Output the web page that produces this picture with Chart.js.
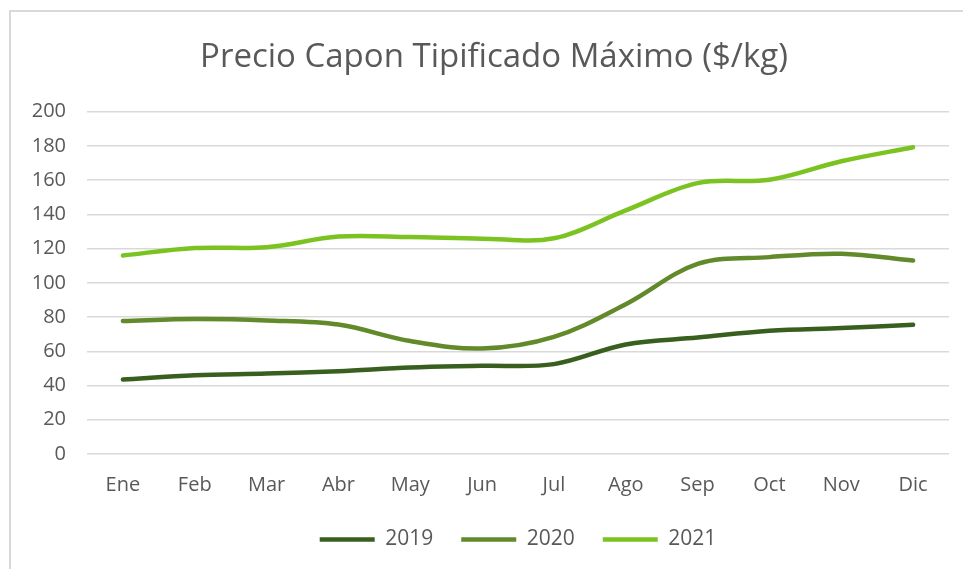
<!DOCTYPE html>
<html>
<head>
<meta charset="utf-8">
<script src="https://cdn.jsdelivr.net/npm/chart.js@4.4.1/dist/chart.umd.min.js"></script>
<style>
html,body{margin:0;padding:0;background:#fff;}
canvas{display:block;}
</style>
</head>
<body>
<canvas id="c" width="963" height="569"></canvas>
<script>
const months = ["Ene","Feb","Mar","Abr","May","Jun","Jul","Ago","Sep","Oct","Nov","Dic"];
const seriesNames = ["2019","2020","2021"];
const values2019 = [43.5, 46, 47, 48.4, 50.5, 51.5, 52.5, 64, 68, 72, 73.6, 75.5];
const values2020 = [77.7, 78.8, 78, 75.6, 66, 61.6, 68.4, 87.5, 111, 115, 117, 113];
const values2021 = [116, 120.3, 120.8, 127, 126.7, 125.8, 126, 142.3, 158.2, 160.2, 171, 179.2];
const yMin = 0, yMax = 200, yStep = 20;
const titleText = "Precio Capon Tipificado Máximo ($/kg)";

const colors = ["#395F1F", "#62892A", "#7AC321"];
const FONT = "'Open Sans', 'Noto Sans', sans-serif";
const textColor = "#595959";

const borderPlugin = {
  id: 'frame',
  beforeDraw(chart) {
    const ctx = chart.ctx;
    ctx.save();
    ctx.fillStyle = '#fff';
    ctx.fillRect(0, 0, chart.width, chart.height);
    ctx.strokeStyle = '#d9d9d9';
    ctx.lineWidth = 2;
    ctx.beginPath();
    ctx.moveTo(10, chart.height);
    ctx.lineTo(10, 11);
    ctx.lineTo(chart.width, 11);
    ctx.stroke();
    ctx.restore();
  }
};

const datasets = [values2019, values2020, values2021].map((v, i) => ({
  label: seriesNames[i],
  data: v,
  borderColor: colors[i],
  backgroundColor: colors[i],
  borderWidth: 4.5,
  pointRadius: 0,
  pointHoverRadius: 0,
  tension: 0.35,
  borderCapStyle: 'round',
  fill: false,
  pointStyle: 'line'
}));

new Chart(document.getElementById('c'), {
  type: 'line',
  data: { labels: months, datasets },
  plugins: [borderPlugin],
  options: {
    responsive: false,
    animation: false,
    layout: { padding: { left: 25, right: 0, top: 0, bottom: 9 } },
    plugins: {
      title: {
        display: true,
        text: titleText,
        color: textColor,
        font: { family: FONT, size: 33, weight: 'normal' },
        padding: { top: 38, bottom: 34 }
      },
      legend: {
        display: true,
        position: 'bottom',
        fullSize: false,
        labels: {
          usePointStyle: true,
          pointStyleWidth: 55,
          boxHeight: 20,
          color: textColor,
          font: { family: FONT, size: 21 },
          padding: 28
        }
      },
      tooltip: { enabled: false }
    },
    scales: {
      x: {
        offset: true,
        grid: { display: false, drawTicks: false },
        border: { display: false },
        ticks: { color: textColor, font: { family: FONT, size: 20 }, padding: 19, maxRotation: 0 },
        afterFit(scale) { scale.height = 47; }
      },
      y: {
        min: yMin, max: yMax,
        grid: { color: '#d9d9d9', lineWidth: 1.5, drawTicks: false },
        border: { display: false },
        ticks: { stepSize: yStep, color: textColor, font: { family: FONT, size: 20 }, padding: 21 },
        afterFit(scale) { scale.width = 62; }
      },
      yRight: {
        type: 'linear',
        position: 'right',
        display: true,
        grid: { display: false, drawTicks: false },
        border: { display: false },
        ticks: { display: false },
        afterFit(scale) { scale.width = 14; }
      }
    }
  }
});
</script>
</body>
</html>
